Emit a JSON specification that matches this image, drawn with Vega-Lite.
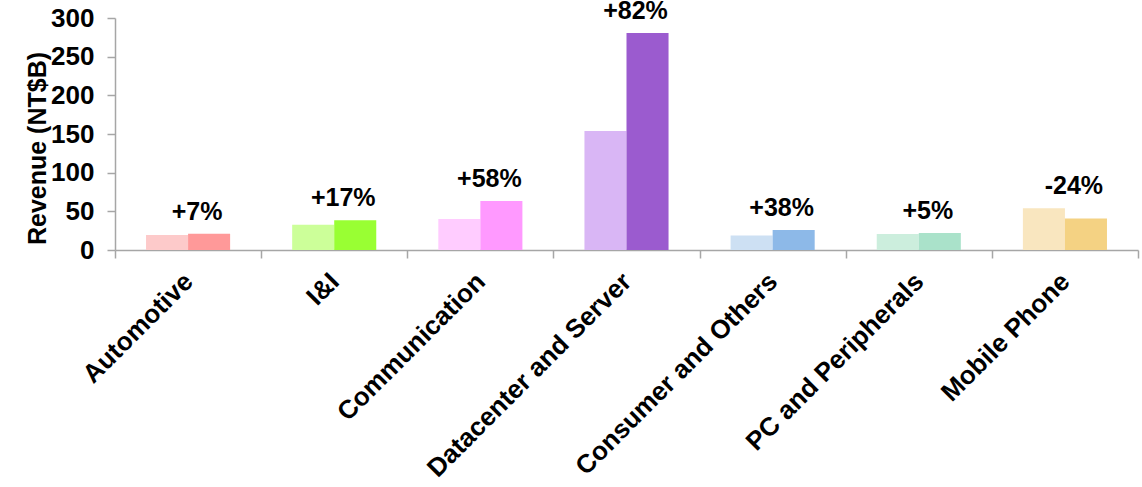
{
  "$schema": "https://vega.github.io/schema/vega-lite/v6.json",
  "autosize": "none",
  "width": 1023,
  "height": 232,
  "padding": {"left": 115, "top": 18, "right": 4, "bottom": 237},
  "background": "white",
  "config": {"view": {"stroke": null}, "font": "Liberation Sans"},
  "data": {"values": [
    {"category": "Automotive", "period": "prev", "key": "Automotive-prev", "value": 19.5, "label": "+7%"},
    {"category": "Automotive", "period": "cur", "key": "Automotive-cur", "value": 20.9, "label": "+7%"},
    {"category": "I&I", "period": "prev", "key": "I&I-prev", "value": 32.8, "label": "+17%"},
    {"category": "I&I", "period": "cur", "key": "I&I-cur", "value": 38.5, "label": "+17%"},
    {"category": "Communication", "period": "prev", "key": "Communication-prev", "value": 40.1, "label": "+58%"},
    {"category": "Communication", "period": "cur", "key": "Communication-cur", "value": 63.4, "label": "+58%"},
    {"category": "Datacenter and Server", "period": "prev", "key": "Datacenter and Server-prev", "value": 154.0, "label": "+82%"},
    {"category": "Datacenter and Server", "period": "cur", "key": "Datacenter and Server-cur", "value": 280.5, "label": "+82%"},
    {"category": "Consumer and Others", "period": "prev", "key": "Consumer and Others-prev", "value": 18.8, "label": "+38%"},
    {"category": "Consumer and Others", "period": "cur", "key": "Consumer and Others-cur", "value": 25.9, "label": "+38%"},
    {"category": "PC and Peripherals", "period": "prev", "key": "PC and Peripherals-prev", "value": 20.8, "label": "+5%"},
    {"category": "PC and Peripherals", "period": "cur", "key": "PC and Peripherals-cur", "value": 21.9, "label": "+5%"},
    {"category": "Mobile Phone", "period": "prev", "key": "Mobile Phone-prev", "value": 54.0, "label": "-24%"},
    {"category": "Mobile Phone", "period": "cur", "key": "Mobile Phone-cur", "value": 40.8, "label": "-24%"}
  ]},
  "encoding": {
    "x": {
      "field": "category", "type": "nominal", "sort": null,
      "scale": {"paddingInner": 0, "paddingOuter": 0},
      "axis": {
        "title": null, "tickBand": "extent", "labelAngle": -45,
        "labelFont": "Liberation Sans", "labelFontWeight": "bold", "labelFontSize": 26, "labelColor": "black",
        "domainColor": "#a6a6a6", "domainWidth": 1.5, "tickColor": "#a6a6a6", "tickWidth": 1.5, "tickSize": 8,
        "labelPadding": 10, "labelOffset": -9, "labelLimit": 0
      }
    }
  },
  "layer": [
    {
      "mark": {"type": "bar"},
      "encoding": {
        "xOffset": {"field": "period", "type": "nominal", "scale": {"domain": ["prev", "cur"], "paddingInner": 0, "paddingOuter": 0.738}},
        "y": {
          "field": "value", "type": "quantitative",
          "scale": {"domain": [0, 300], "nice": false},
          "axis": {
            "title": "Revenue (NT$B)", "values": [0, 50, 100, 150, 200, 250, 300], "grid": false, "labelOverlap": false,
            "labelFont": "Liberation Sans", "labelFontWeight": "bold", "labelFontSize": 26, "labelColor": "black",
            "titleFont": "Liberation Sans", "titleFontWeight": "bold", "titleFontSize": 25, "titleColor": "black",
            "domainColor": "#a6a6a6", "domainWidth": 1.5, "tickColor": "#a6a6a6", "tickWidth": 1.5, "tickSize": 8,
            "labelPadding": 13, "titlePadding": 0, "titleY": 130
          }
        },
        "color": {
          "field": "key", "type": "nominal", "legend": null,
          "scale": {
            "domain": ["Automotive-prev", "Automotive-cur", "I&I-prev", "I&I-cur", "Communication-prev", "Communication-cur", "Datacenter and Server-prev", "Datacenter and Server-cur", "Consumer and Others-prev", "Consumer and Others-cur", "PC and Peripherals-prev", "PC and Peripherals-cur", "Mobile Phone-prev", "Mobile Phone-cur"],
            "range": ["#fdcaca", "#ff9999", "#ccff99", "#99ff33", "#ffccff", "#ff99ff", "#d9b6f5", "#9b5bcf", "#cde0f3", "#8db9e8", "#cceedd", "#aae2ca", "#f9e6bf", "#f4d283"]
          }
        }
      }
    },
    {
      "transform": [{"aggregate": [{"op": "max", "field": "value", "as": "top"}], "groupby": ["category", "label"]}],
      "mark": {"type": "text", "font": "Liberation Sans", "fontWeight": "bold", "fontSize": 25, "color": "black", "baseline": "alphabetic", "align": "center", "dx": 9, "dy": -14},
      "encoding": {
        "y": {
          "field": "top", "type": "quantitative",
          "scale": {"domain": [0, 300], "nice": false},
          "axis": {
            "title": "Revenue (NT$B)", "values": [0, 50, 100, 150, 200, 250, 300], "grid": false, "labelOverlap": false,
            "labelFont": "Liberation Sans", "labelFontWeight": "bold", "labelFontSize": 26, "labelColor": "black",
            "titleFont": "Liberation Sans", "titleFontWeight": "bold", "titleFontSize": 25, "titleColor": "black",
            "domainColor": "#a6a6a6", "domainWidth": 1.5, "tickColor": "#a6a6a6", "tickWidth": 1.5, "tickSize": 8,
            "labelPadding": 13, "titlePadding": 0, "titleY": 130
          }
        },
        "text": {"field": "label"}
      }
    }
  ]
}
